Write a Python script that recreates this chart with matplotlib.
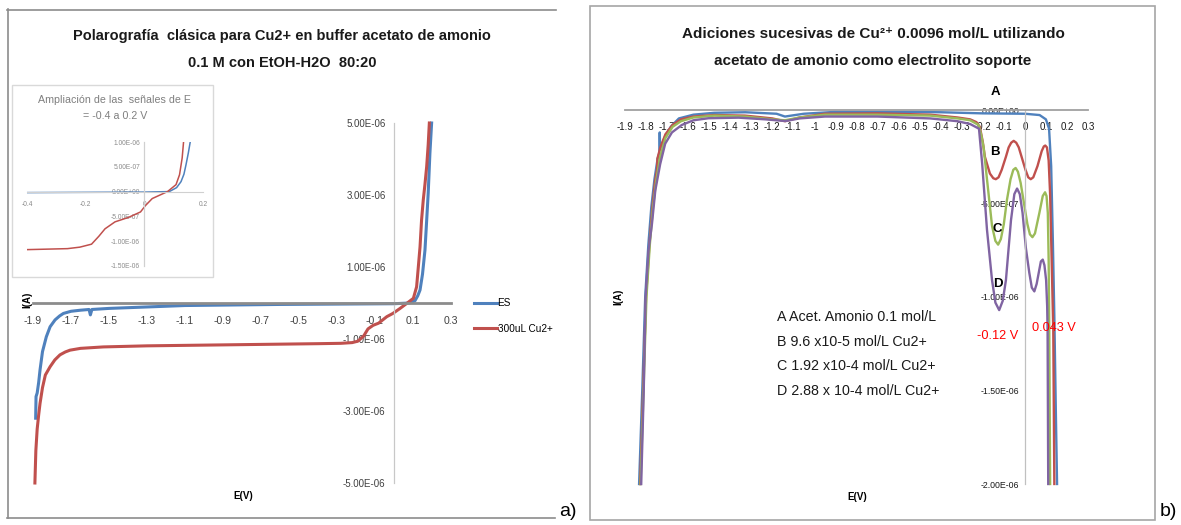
import matplotlib
matplotlib.use("Agg")
import matplotlib.pyplot as plt
from matplotlib import font_manager as fm
from matplotlib.lines import Line2D
from matplotlib.ticker import FixedLocator, FuncFormatter

# pick a narrow sans if one is installed, otherwise Arial-metric Liberation Sans
_names = {f.name for f in fm.fontManager.ttflist}
if 'Liberation Sans Narrow' in _names:
    MAIN, K = 'Liberation Sans Narrow', 1.2
else:
    MAIN, K = 'Liberation Sans', 1.0
plt.rcParams['axes.unicode_minus'] = False
plt.rcParams['font.family'] = [MAIN, 'DejaVu Sans']

# ---------- panel a data (E in V, I in 1e-6 A) ----------
E_es = [-1.886, -1.884, -1.878, -1.87, -1.863, -1.85, -1.83, -1.81, -1.784, -1.76,
        -1.74, -1.7, -1.65, -1.605, -1.598, -1.59, -1.5, -1.4, -1.1, -0.6, 0.0,
        0.08, 0.11, 0.125, 0.137, 0.15, 0.163, 0.172, 0.18, 0.189, 0.198]
I_es = [-3.2, -2.6, -2.5, -2.2, -1.86, -1.35, -0.94, -0.66, -0.47, -0.36,
        -0.29, -0.23, -0.2, -0.18, -0.33, -0.18, -0.15, -0.13, -0.07, -0.04, -0.02,
        0.0, 0.06, 0.2, 0.36, 0.8, 1.47, 2.3, 3.05, 4.16, 5.0]

E_cu = [-1.89, -1.885, -1.878, -1.87, -1.863, -1.85, -1.835, -1.81, -1.785, -1.758,
        -1.73, -1.705, -1.65, -1.53, -1.3, -1.0, -0.7, -0.4, -0.28, -0.22, -0.19,
        -0.16, -0.137, -0.11, -0.081, -0.038, -0.006, 0.032, 0.07, 0.102, 0.119,
        0.128, 0.137, 0.145, 0.154, 0.163, 0.172, 0.18, 0.186]
I_cu = [-5.0, -4.1, -3.5, -3.1, -2.79, -2.35, -2.0, -1.77, -1.58, -1.44,
        -1.36, -1.31, -1.26, -1.22, -1.19, -1.17, -1.15, -1.13, -1.12, -1.1, -1.06,
        -0.92, -0.72, -0.62, -0.56, -0.38, -0.29, -0.15, 0.0, 0.13, 0.45,
        1.0, 1.56, 2.3, 2.86, 3.3, 3.79, 4.4, 5.0]

# inset (zoom of -0.4 .. 0.2 V)
E_in_es = [-0.4, -0.2, 0.0, 0.085, 0.11, 0.125, 0.135, 0.142, 0.15, 0.157]
I_in_es = [-0.02, -0.015, -0.01, 0.0, 0.08, 0.2, 0.35, 0.54, 0.78, 1.02]
E_in_cu = [-0.4, -0.262, -0.22, -0.18, -0.155, -0.134, -0.1, -0.054, -0.013, 0.004,
           0.027, 0.079, 0.108, 0.12, 0.129, 0.134]
I_in_cu = [-1.17, -1.15, -1.12, -1.06, -0.9, -0.75, -0.61, -0.52, -0.41, -0.28,
           -0.14, 0.0, 0.14, 0.34, 0.68, 1.02]

xt_a = [-1.9, -1.7, -1.5, -1.3, -1.1, -0.9, -0.7, -0.5, -0.3, -0.1, 0.1, 0.3]
yt_a = [-5e-6, -3e-6, -1e-6, 1e-6, 3e-6, 5e-6]
xt_in = [-0.4, -0.2, 0.0, 0.2]
yt_in = [-1.5e-6, -1e-6, -5e-7, 0.0, 5e-7, 1e-6]

# ---------- panel b data ----------
E_A = [-1.833, -1.818, -1.804, -1.789, -1.775, -1.76, -1.745, -1.737, -1.735, -1.733,
       -1.713, -1.683, -1.644, -1.575, -1.476, -1.328, -1.18, -1.14, -1.05, -0.9, -0.6, -0.4,
       -0.3, -0.2, 0.0, 0.07, 0.1, 0.115, 0.125, 0.133, 0.14, 0.147, 0.153]
I_A = [-2.0, -1.5, -1.0, -0.72, -0.52, -0.37, -0.26, -0.23, -0.12, -0.21,
       -0.15, -0.09, -0.045, -0.025, -0.015, -0.012, -0.02, -0.035, -0.02, -0.01, -0.01, -0.012,
       -0.015, -0.018, -0.02, -0.027, -0.05, -0.1, -0.3, -0.7, -1.1, -1.6, -2.0]

E_B = [-1.828, -1.814, -1.80, -1.784, -1.77, -1.757, -1.748, -1.746, -1.732, -1.708,
       -1.674, -1.634, -1.575, -1.476, -1.33, -1.2, -1.14, -1.07, -0.95, -0.7, -0.45,
       -0.32, -0.26, -0.23, -0.214, -0.2, -0.19, -0.166, -0.15, -0.138, -0.125, -0.11,
       -0.09, -0.077, -0.065, -0.053, -0.041, -0.029, -0.013, 0.003, 0.016, 0.028,
       0.04, 0.06, 0.08, 0.09, 0.097, 0.105, 0.113, 0.12, 0.124, 0.135, 0.14]
I_B = [-2.0, -1.5, -1.0, -0.72, -0.52, -0.38, -0.32, -0.26, -0.2, -0.13,
       -0.08, -0.05, -0.035, -0.027, -0.03, -0.045, -0.06, -0.04, -0.02, -0.018, -0.025,
       -0.04, -0.05, -0.065, -0.09, -0.17, -0.25, -0.34, -0.365, -0.37, -0.36, -0.32,
       -0.25, -0.2, -0.175, -0.165, -0.175, -0.2, -0.26, -0.32, -0.36, -0.37,
       -0.36, -0.3, -0.22, -0.195, -0.19, -0.2, -0.27, -0.45, -0.64, -1.18, -2.0]

E_C = [-1.826, -1.812, -1.798, -1.782, -1.767, -1.752, -1.733, -1.708, -1.674, -1.634,
       -1.575, -1.476, -1.33, -1.2, -1.14, -1.07, -0.95, -0.7, -0.45, -0.32, -0.26,
       -0.22, -0.208, -0.196, -0.18, -0.156, -0.14, -0.127, -0.114, -0.1, -0.085,
       -0.068, -0.055, -0.044, -0.033, -0.02, -0.004, 0.012, 0.024, 0.036, 0.048,
       0.069, 0.085, 0.096, 0.103, 0.109, 0.113, 0.116, 0.12]
I_C = [-2.0, -1.5, -1.0, -0.72, -0.52, -0.38, -0.25, -0.15, -0.09, -0.06,
       -0.04, -0.03, -0.035, -0.05, -0.055, -0.04, -0.025, -0.025, -0.03, -0.045, -0.055,
       -0.08, -0.13, -0.2, -0.37, -0.62, -0.7, -0.72, -0.69, -0.61, -0.48,
       -0.37, -0.32, -0.31, -0.33, -0.39, -0.5, -0.61, -0.665, -0.68, -0.66,
       -0.55, -0.46, -0.44, -0.46, -0.55, -0.8, -1.18, -2.0]

E_D = [-1.823, -1.811, -1.802, -1.788, -1.772, -1.756, -1.733, -1.709, -1.677, -1.63,
       -1.575, -1.503, -1.36, -1.233, -1.137, -1.07, -0.95, -0.7, -0.45, -0.32, -0.26,
       -0.218, -0.203, -0.18, -0.156, -0.14, -0.122, -0.105, -0.09, -0.066, -0.05,
       -0.037, -0.024, -0.011, 0.005, 0.021, 0.033, 0.045, 0.056, 0.066, 0.076,
       0.085, 0.093, 0.101, 0.106, 0.108, 0.111]
I_D = [-2.0, -1.5, -1.0, -0.75, -0.61, -0.43, -0.29, -0.18, -0.12, -0.08,
       -0.055, -0.044, -0.041, -0.05, -0.059, -0.045, -0.035, -0.035, -0.045, -0.06, -0.075,
       -0.1, -0.285, -0.64, -0.91, -1.03, -1.07, -1.02, -0.91, -0.59, -0.45,
       -0.42, -0.45, -0.55, -0.74, -0.87, -0.95, -0.97, -0.93, -0.87, -0.81,
       -0.80, -0.83, -0.91, -1.05, -1.18, -2.0]

xt_b = [-1.9, -1.8, -1.7, -1.6, -1.5, -1.4, -1.3, -1.2, -1.1, -1.0, -0.9, -0.8, -0.7,
        -0.6, -0.5, -0.4, -0.3, -0.2, -0.1, 0.0, 0.1, 0.2, 0.3]
yt_b = [-2e-6, -1.5e-6, -1e-6, -5e-7, 0.0]
legend_b = ["A Acet. Amonio 0.1 mol/L", "B 9.6 x10-5 mol/L Cu2+",
            "C 1.92 x10-4 mol/L Cu2+", "D 2.88 x 10-4 mol/L Cu2+"]

BLUE, RED, GREEN, PURPLE = '#4F81BD', '#C0504D', '#9BBB59', '#8064A2'

W, H = 1181, 525
fig = plt.figure(figsize=(W / 100, H / 100), dpi=100)


def box(x0, y0, x1, y1):
    # figure-fraction rectangle from pixel corners (top-left origin)
    return [x0 / W, 1 - y1 / H, (x1 - x0) / W, (y1 - y0) / H]


def ftext(px, py, s, **kw):
    return fig.text(px / W, 1 - py / H, s, **kw)


def fline(xs, ys, **kw):
    fig.add_artist(Line2D([x / W for x in xs], [1 - y / H for y in ys], **kw))


def setup_axes(ax, xt, yt, xfmt, yfmt, fs, hcol, hlw, vcol, xpad, ypad):
    for s in ['top', 'right']:
        ax.spines[s].set_visible(False)
    ax.spines['left'].set_position(('data', 0))
    ax.spines['bottom'].set_position(('data', 0))
    ax.spines['bottom'].set_color(hcol)
    ax.spines['bottom'].set_linewidth(hlw)
    ax.spines['left'].set_color(vcol)
    ax.spines['left'].set_linewidth(0.9)
    ax.xaxis.set_major_locator(FixedLocator(xt))
    ax.yaxis.set_major_locator(FixedLocator(yt))
    ax.xaxis.set_major_formatter(FuncFormatter(xfmt))
    ax.yaxis.set_major_formatter(FuncFormatter(yfmt))
    ax.tick_params(axis='x', length=0, pad=xpad, labelsize=fs, colors='#404040')
    ax.tick_params(axis='y', length=0, pad=ypad, labelsize=fs, colors='#404040')
    ax.patch.set_alpha(0)


# ---------------- panel a ----------------
fline([7, 556], [9.5, 9.5], color='#8c8c8c', lw=1.2)
fline([7.5, 7.5], [9, 518], color='#8c8c8c', lw=1.2)
fline([7, 555], [518, 518], color='#8c8c8c', lw=1.2)

ftext(282, 36, "Polarografía  clásica para Cu2+ en buffer acetato de amonio",
      ha='center', va='center', fontsize=10.5 * K, fontweight='bold', color='#1a1a1a')
ftext(282, 63, "0.1 M con EtOH-H2O  80:20",
      ha='center', va='center', fontsize=10.5 * K, fontweight='bold', color='#1a1a1a')

axa = fig.add_axes(box(33, 123, 451, 483))
axa.plot(E_es, [v * 1e-6 for v in I_es], color=BLUE, lw=2.2, label='ES', clip_on=False)
axa.plot(E_cu, [v * 1e-6 for v in I_cu], color=RED, lw=2.2, label='300uL Cu2+', clip_on=False)
axa.set_xlim(-1.9, 0.3)
axa.set_ylim(-5e-6, 5e-6)
setup_axes(axa, xt_a, yt_a, lambda v, p: f"{v:.1f}", lambda v, p: f"{v:.2E}",
           7 * K, '#8c8c8c', 2.0, '#c8c8c8', 9, 6)
axa.tick_params(axis='x', labelsize=7.6 * K)
ftext(27, 300, "I(A)", rotation=90, ha='center', va='center', fontsize=7 * K, fontweight='bold')
ftext(243, 496, "E(V)", ha='center', va='center', fontsize=7 * K, fontweight='bold')
axa.legend(loc='upper left', bbox_to_anchor=(469 / W, 1 - 293 / H),
           bbox_transform=fig.transFigure, frameon=False, fontsize=7.2 * K,
           handlelength=2.3, handletextpad=0.05, labelspacing=1.55, borderpad=0)

# inset
fig.add_artist(plt.Rectangle((12 / W, 1 - 277 / H), 201 / W, 192 / H,
                             transform=fig.transFigure, facecolor='white',
                             edgecolor='#d9d9d9', lw=1.0, zorder=3))
ftext(115, 100, "Ampliación de las  señales de E", ha='center', va='center',
      fontsize=7.7 * K, color='#7f7f7f', zorder=4)
ftext(115, 116, "= -0.4 a 0.2 V", ha='center', va='center',
      fontsize=7.7 * K, color='#7f7f7f', zorder=4)
axi = fig.add_axes(box(27, 142, 203, 266), zorder=5)
axi.plot(E_in_es, [v * 1e-6 for v in I_in_es], color=BLUE, lw=1.1)
axi.plot(E_in_cu, [v * 1e-6 for v in I_in_cu], color=RED, lw=1.1)
axi.set_xlim(-0.4, 0.2)
axi.set_ylim(-1.5e-6, 1e-6)
setup_axes(axi, xt_in, yt_in, lambda v, p: f"{v:g}", lambda v, p: f"{v:.2E}",
           4.8 * K, '#d0d0d0', 0.8, '#d0d0d0', 7, 3)
axi.tick_params(colors='#8a8a8a')

ftext(568, 512, "a)", ha='center', va='center', fontsize=14, family='Liberation Sans')

# ---------------- panel b ----------------
fig.add_artist(plt.Rectangle((589.5 / W, 1 - 520 / H), 565.5 / W, 514 / H,
                             transform=fig.transFigure, facecolor='none',
                             edgecolor='#a6a6a6', lw=1.2))
ftext(873, 34, "Adiciones sucesivas de Cu²⁺ 0.0096 mol/L utilizando",
      ha='center', va='center', fontsize=11 * K, fontweight='bold', color='#1a1a1a')
ftext(873, 61, "acetato de amonio como electrolito soporte",
      ha='center', va='center', fontsize=11 * K, fontweight='bold', color='#1a1a1a')

axb = fig.add_axes(box(625, 110, 1088, 484))
for E, I, c in [(E_A, I_A, BLUE), (E_B, I_B, RED), (E_C, I_C, GREEN), (E_D, I_D, PURPLE)]:
    axb.plot(E, [v * 1e-6 for v in I], color=c, lw=1.7, clip_on=False)
axb.set_xlim(-1.9, 0.3)
axb.set_ylim(-2e-6, 0)
setup_axes(axb, xt_b, yt_b, lambda v, p: f"{round(v, 1):g}", lambda v, p: f"{v:.2E}",
           7 * K, '#a0a0a0', 1.3, '#c0c0c0', 9, 4)
axb.tick_params(colors='#1a1a1a')
axb.tick_params(axis='y', labelsize=6.3 * K)

for lab, e, i in [("A", -0.138, 0.095), ("B", -0.142, -0.223), ("C", -0.129, -0.635), ("D", -0.126, -0.93)]:
    axb.text(e, i * 1e-6, lab, ha='center', va='center', fontsize=9.5 * K, fontweight='bold')
axb.text(-0.131, -1.21e-6, "-0.12 V", color='red', ha='center', va='center', fontsize=9.2 * K)
axb.text(0.136, -1.165e-6, "0.043 V", color='red', ha='center', va='center', fontsize=9.2 * K)
for k, s in enumerate(legend_b):
    ftext(777, 317 + 24.7 * k, s, ha='left', va='center', fontsize=10.3 * K, color='#1a1a1a')

ftext(618, 297, "I(A)", rotation=90, ha='center', va='center', fontsize=7 * K, fontweight='bold')
ftext(857, 497, "E(V)", ha='center', va='center', fontsize=7 * K, fontweight='bold')
ftext(1168, 511, "b)", ha='center', va='center', fontsize=14, family='Liberation Sans')

fig.savefig("out.png", dpi=100)
